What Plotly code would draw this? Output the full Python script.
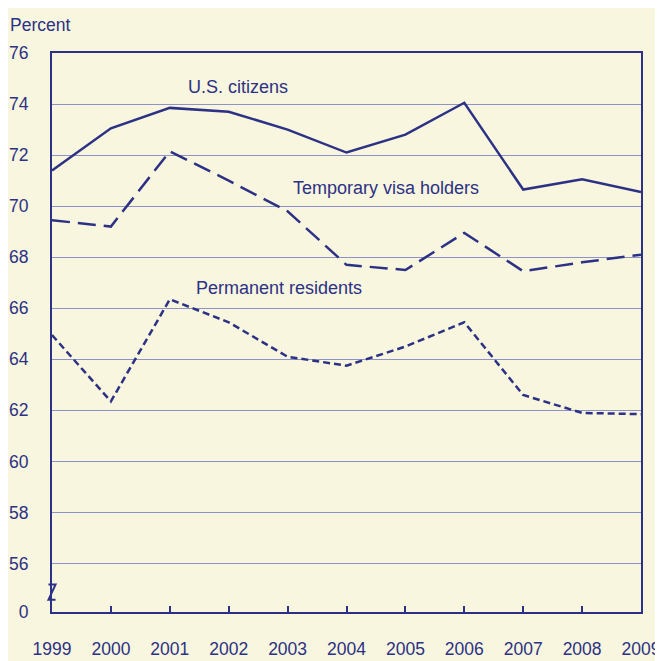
import plotly.graph_objects as go

years = [1999, 2000, 2001, 2002, 2003, 2004, 2005, 2006, 2007, 2008, 2009]
us_citizens = [71.4, 73.05, 73.85, 73.7, 73.0, 72.1, 72.8, 74.05, 70.65, 71.05, 70.55]
temp_visa = [69.45, 69.2, 72.15, 71.0, 69.8, 67.7, 67.5, 68.95, 67.45, 67.8, 68.1]
perm_res = [64.95, 62.35, 66.35, 65.45, 64.1, 63.75, 64.5, 65.45, 62.6, 61.9, 61.85]

y_tickvals = [54.1, 56, 58, 60, 62, 64, 66, 68, 70, 72, 74, 76]
y_ticktext = ["0", "56", "58", "60", "62", "64", "66", "68", "70", "72", "74", "76"]

NAVY = "#2c3185"
GRID = "#8e92c4"
BG = "#f8f6de"
FONT = "Liberation Sans, Arial, sans-serif"

fig = go.Figure()
fig.add_trace(go.Scatter(x=years, y=us_citizens, mode="lines",
                         line=dict(color=NAVY, width=2.5), name="U.S. citizens"))
fig.add_trace(go.Scatter(x=years, y=temp_visa, mode="lines",
                         line=dict(color=NAVY, width=2.5, dash="18px,8px"), name="Temporary visa holders"))
fig.add_trace(go.Scatter(x=years, y=perm_res, mode="lines",
                         line=dict(color=NAVY, width=2.5, dash="7px,4px"), name="Permanent residents"))

labels = [
    ("U.S. citizens", 2001.28, 74.68),
    ("Temporary visa holders", 2003.06, 70.72),
    ("Permanent residents", 2001.41, 66.80),
]
for txt, x, y in labels:
    fig.add_annotation(x=x, y=y, xref="x", yref="y", text=txt, showarrow=False,
                       xanchor="left", yanchor="middle",
                       font=dict(family=FONT, size=18, color=NAVY))

fig.add_annotation(x=-0.075, y=1.05, xref="paper", yref="paper", text="Percent",
                   showarrow=False, xanchor="left", yanchor="middle",
                   font=dict(family=FONT, size=17.5, color=NAVY))

# axis break mark ("Z" on the y axis)
fig.add_shape(type="path", xref="paper", yref="paper",
              path="M -0.006 0.049 L 0.006 0.049 L -0.006 0.022 L 0.006 0.022",
              line=dict(color=NAVY, width=2))

# the page body adds an 8px margin, so the figure is sized to fit the window
fig.update_layout(
    width=655, height=653,
    margin=dict(l=44, r=22, t=45, b=49, autoexpand=False),
    paper_bgcolor=BG, plot_bgcolor=BG,
    showlegend=False,
    font=dict(family=FONT, size=17.5, color=NAVY),
)
fig.update_xaxes(range=[1999, 2009], tickvals=years, ticks="inside", ticklen=6,
                 tickwidth=2, tickcolor=NAVY, showgrid=False, zeroline=False,
                 showline=True, linecolor=NAVY, linewidth=2, mirror=True,
                 automargin=False,
                 ticklabelstandoff=20, tickfont=dict(size=17.5, color=NAVY))
fig.update_yaxes(range=[54.1, 76], tickvals=y_tickvals, ticktext=y_ticktext,
                 ticks="", showgrid=True, gridcolor=GRID, gridwidth=1.3,
                 zeroline=False, showline=True, linecolor=NAVY, linewidth=2,
                 mirror=True, automargin=False,
                 ticklabelstandoff=18, tickfont=dict(size=17.5, color=NAVY))

fig.write_html("out.html")
